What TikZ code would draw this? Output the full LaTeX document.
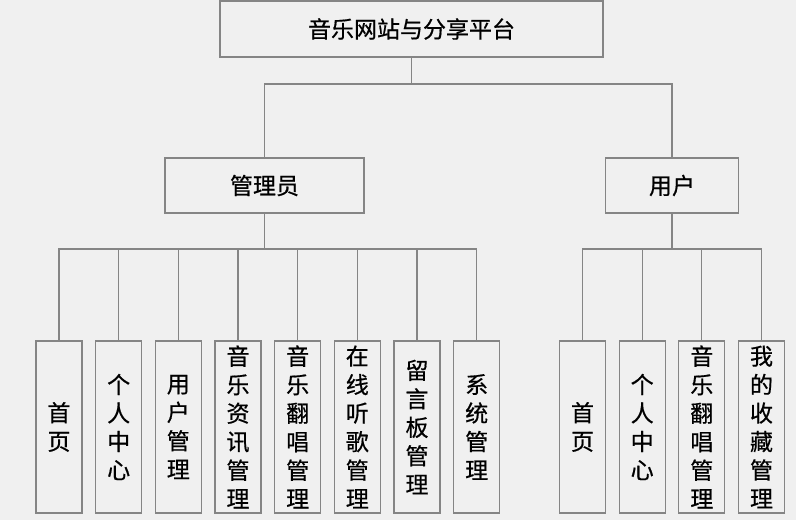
\documentclass[tikz,border=0pt]{standalone}
\usepackage{fontspec}
\newfontfamily\cjk[FakeBold=0.6]{Noto Sans CJK SC}
\definecolor{bg}{HTML}{F0F0F0}
\definecolor{ln}{HTML}{858585}
\begin{document}
\begin{tikzpicture}[x=1bp,y=-1bp,
  box/.style={draw=ln,line width=1.1bp,fill=bg,inner sep=0pt,align=center,
    font=\cjk\fontsize{23bp}{28.5bp}\selectfont},
  leaf/.style={box,minimum width=46bp,minimum height=172bp},
  conn/.style={draw=ln,line width=1.1bp}]
\fill[bg] (0,0) rectangle (796,520);
\useasboundingbox (0,0) rectangle (796,520);
\node[box,minimum width=383bp,minimum height=56bp] (root) at (411.5,29) {音乐网站与分享平台};
\node[box,minimum width=199bp,minimum height=55bp] (admin) at (264.5,185.5) {管理员};
\node[box,minimum width=133.5bp,minimum height=55bp] (user) at (672,185.5) {用户};
\node[leaf] (a1) at (59,427) {首\\页};
\node[leaf] (a2) at (118.7,427) {个\\人\\中\\心};
\node[leaf] (a3) at (178.3,427) {用\\户\\管\\理};
\node[leaf] (a4) at (238,427) {音\\乐\\资\\讯\\管\\理};
\node[leaf] (a5) at (297.7,427) {音\\乐\\翻\\唱\\管\\理};
\node[leaf] (a6) at (357.3,427) {在\\线\\听\\歌\\管\\理};
\node[leaf] (a7) at (417,427) {留\\言\\板\\管\\理};
\node[leaf] (a8) at (476.7,427) {系\\统\\管\\理};
\node[leaf] (u1) at (582.5,427) {首\\页};
\node[leaf] (u2) at (642.2,427) {个\\人\\中\\心};
\node[leaf] (u3) at (701.8,427) {音\\乐\\翻\\唱\\管\\理};
\node[leaf] (u4) at (761.5,427) {我\\的\\收\\藏\\管\\理};
\coordinate (b1) at (0,84);
\coordinate (b2) at (0,249);
\draw[conn] (root.south) -- (root.south |- b1);
\draw[conn] (admin.north) |- (b1 -| user.north) -- (user.north);
\draw[conn] (admin.south) -- (admin.south |- b2);
\draw[conn] (a1.north) |- (b2 -| a8.north) -- (a8.north);
\foreach \n in {a2,a3,a4,a5,a6,a7} {\draw[conn] (\n.north) -- (\n.north |- b2);}
\draw[conn] (user.south) -- (user.south |- b2);
\draw[conn] (u1.north) |- (b2 -| u4.north) -- (u4.north);
\foreach \n in {u2,u3} {\draw[conn] (\n.north) -- (\n.north |- b2);}
\end{tikzpicture}
\end{document}
